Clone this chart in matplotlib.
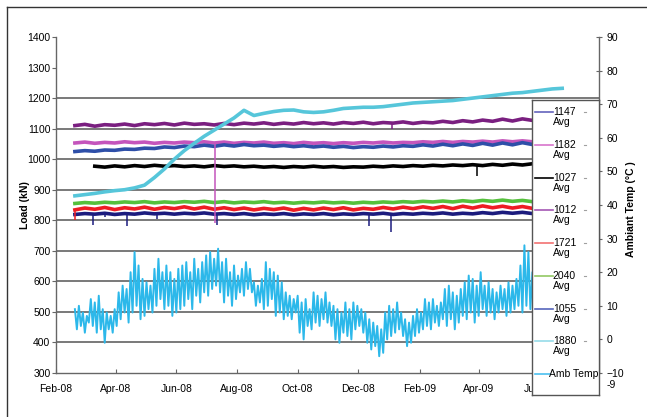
import matplotlib.pyplot as plt
import matplotlib.dates as mdates
from matplotlib.lines import Line2D
import numpy as np
import pandas as pd

plt.rcParams['font.family'] = ['Liberation Sans', 'DejaVu Sans']
plt.rcParams['font.size'] = 7.5

# ---- load cells, 10-day readings from 20 Feb 2008 (kN) ----
load_start = '2008-02-20'
nan = np.nan
load_1147 = [819, 822, 820, 823, 819, 822, 820, 824, 821, 823, 820, 823, 821, 824, 820, 822, 819, 822, 818, 821,
             819, 822, 818, 821, 819, 822, 818, 821, 819, 822, 820, 823, 819, 822, 820, 823, 821, 824, 820, 823,
             821, 825, 822, 826, 823, 826, 822, 825, 823, 825]
load_1182 = [1053, 1056, 1052, 1055, 1053, 1057, 1054, 1056, 1052, 1055, 1053, 1056, 1054, 1057, 1053, 1056, 1052,
             1055, 1053, 1056, 1052, 1054, 1051, 1055, 1052, 1054, 1051, 1054, 1052, 1055, 1053, 1056, 1053, 1055,
             1054, 1057, 1055, 1058, 1055, 1058, 1056, 1059, 1056, 1060, 1057, 1060, 1057, 1059, 1056, 1058]
load_1027 = [nan, nan, 977, 974, 978, 975, 979, 976, 980, 977, 979, 976, 978, 975, 979, 976, 978, 975, 977, 974,
             976, 973, 976, 974, 977, 974, 976, 973, 975, 974, 977, 975, 978, 976, 979, 977, 980, 978, 981, 979,
             982, 979, 983, 980, 984, 981, 985, 982, 984, 981]
load_1012 = [1110, 1114, 1108, 1113, 1111, 1115, 1110, 1116, 1113, 1117, 1112, 1118, 1114, 1116, 1112, 1117, 1113,
             1118, 1115, 1119, 1114, 1118, 1115, 1120, 1116, 1119, 1115, 1120, 1117, 1121, 1116, 1120, 1118, 1122,
             1117, 1121, 1119, 1124, 1120, 1126, 1122, 1128, 1124, 1131, 1125, 1132, 1127, 1130, 1128, 1131]
load_1721 = [834, 840, 836, 842, 835, 841, 837, 843, 836, 842, 838, 844, 837, 843, 836, 841, 835, 840, 834, 839,
             835, 840, 833, 839, 834, 840, 835, 841, 834, 839, 836, 842, 837, 843, 838, 844, 839, 845, 838, 846,
             840, 847, 841, 846, 840, 845, 839, 844, 840, 843]
load_2040 = [855, 858, 856, 859, 857, 860, 858, 861, 857, 860, 858, 861, 859, 862, 858, 861, 857, 860, 858, 861,
             857, 859, 856, 859, 857, 860, 857, 859, 856, 859, 857, 860, 858, 861, 859, 862, 860, 863, 860, 864,
             861, 865, 862, 866, 862, 865, 861, 864, 862, 864]
load_1055 = [1025, 1028, 1026, 1030, 1029, 1033, 1032, 1036, 1035, 1040, 1038, 1043, 1041, 1046, 1042, 1047, 1043,
             1048, 1044, 1046, 1042, 1045, 1041, 1044, 1040, 1043, 1039, 1042, 1038, 1041, 1039, 1043, 1040, 1044,
             1042, 1047, 1043, 1049, 1044, 1050, 1045, 1052, 1046, 1053, 1047, 1054, 1048, 1052, 1047, 1050]
load_1880 = [880, 884, 888, 893, 897, 900, 906, 915, 940, 968, 1000, 1028, 1052, 1075, 1095, 1115, 1135, 1160,
             1143, 1150, 1156, 1160, 1161, 1155, 1153, 1155, 1160, 1166, 1168, 1170, 1170, 1172, 1176, 1180, 1184,
             1186, 1188, 1190, 1192, 1196, 1200, 1204, 1208, 1212, 1216, 1218, 1222, 1226, 1230, 1232]

# drop-outs in the load records
spike_dates = ['2008-02-20', '2008-03-09', '2008-03-21', '2008-04-12', '2008-05-13', '2008-07-10',
               '2008-07-12', '2008-12-12', '2009-01-03', '2009-01-04', '2009-03-30']
spike_series = ['1721', '1147', '1147', '1147', '1147', '1182', '1147', '1147', '1147', '1012', '1027']
spike_tops = [838, 820, 820, 820, 821, 1055, 820, 820, 821, 1118, 980]
spike_bottoms = [800, 785, 812, 780, 805, 790, 786, 782, 760, 1098, 945]

# ambient temperature, 2-day readings from 20 Feb 2008 (deg C)
amb_start = '2008-02-20'
amb_temp = [9, 3, 10, 4, 8, 2, 7, 5,
            12, 4, 11, 2, 13, 3,
            9, -1, 8, 3, 7, 2, 9, 4,
            14, 6, 16, 8, 15, 5,
            20, 8, 26, 10, 22, 6,
            18, 7, 17, 9, 16,
            8, 21, 10, 24, 12, 20, 9, 22,
            10, 20, 7, 18, 8, 21, 9,
            22, 10, 23, 12, 20, 9, 24, 13, 21, 11, 23,
            14, 25, 13, 26, 15, 24, 16, 27, 14,
            23, 11, 24, 13, 20, 10, 22, 12, 19, 14, 21,
            13, 23, 15, 21, 14,
            17, 10, 16, 11, 18,
            9, 23, 10, 21, 12,
            20, 7, 19, 8, 17,
            6, 14, 7, 13, 6, 12, 8,
            13, 2, 11, 0, 12, 4, 9, 3,
            14, 5, 13, 4, 12, 6, 14, 5, 11, 4,
            10, 0, 9, -1, 8, 2, 11, 1, 9, 0,
            11, 3, 10, 4, 9, 2, 8,
            -1, 6, -3, 5, -2,
            4, -5, 3, -4,
            8, 0, 10, 1, 9, 2, 11, 3, 8, 1,
            6, -2, 5, -1, 7,
            1, 9, 2, 8, 3,
            12, 4, 11, 3, 12, 5, 10, 4, 11, 6,
            15, 4, 16, 6, 14, 3, 13, 5, 15, 7,
            17, 6, 19, 8, 18, 5, 16, 7, 20, 9,
            16, 7, 17, 8, 15, 6, 14, 8, 16, 9,
            15, 7, 17, 8, 16, 9, 18, 10,
            22, 8, 28, 10, 26,
            9, 20, 8, 18, 10]

grid_levels = [400, 500, 600, 700, 800, 900, 1000, 1100, 1200]

series = [('1147', load_1147), ('1182', load_1182), ('1027', load_1027), ('1012', load_1012),
          ('1721', load_1721), ('2040', load_2040), ('1055', load_1055), ('1880', load_1880)]
line_colors = {'1147': '#1c1c7e', '1182': '#c455bc', '1027': '#000000', '1012': '#7a1f80',
               '1721': '#ee1c24', '2040': '#55c03c', '1055': '#2e4fa8', '1880': '#56c6da'}
key_colors = {'1147': '#6464bc', '1182': '#d874cc', '1027': '#000000', '1012': '#a457b4',
              '1721': '#f27272', '2040': '#92c864', '1055': '#5666bc', '1880': '#96dbe9'}
amb_color = '#2cb8ea'

fig = plt.figure(figsize=(6.47, 4.17), dpi=100)
ax = fig.add_axes([56 / 647, 44 / 417, 543 / 647, 336 / 417])
ax2 = ax.twinx()

ax.hlines(grid_levels, 0, 1, transform=ax.get_yaxis_transform(), colors='#6e6e6e', lw=1.3, zorder=0)

load_dates = pd.date_range(load_start, periods=len(load_1147), freq='10D')
for name, vals in series:
    ax.plot(load_dates, vals, color=line_colors[name], lw=2.6, zorder=2)

for d, s, top, bot in zip(spike_dates, spike_series, spike_tops, spike_bottoms):
    ax.vlines(pd.Timestamp(d), bot, top, color=line_colors[s], lw=1.1, zorder=2)

amb_dates = pd.date_range(amb_start, periods=len(amb_temp), freq='2D')
ax2.plot(amb_dates, amb_temp, color=amb_color, lw=1.4)

ax.set_xlim(pd.Timestamp('2008-02-01'), pd.Timestamp('2009-07-31'))
ax.set_ylim(300, 1400)
ax.set_yticks(range(300, 1401, 100))
ax2.set_ylim(-10, 90)
ax2.set_yticks(range(-10, 91, 10))

ax.xaxis.set_major_locator(mdates.MonthLocator(bymonth=[2, 4, 6, 8, 10, 12]))
ax.xaxis.set_major_formatter(mdates.DateFormatter('%b-%y'))

for a in (ax, ax2):
    for sp in a.spines.values():
        sp.set_color('#666666')
        sp.set_linewidth(1.0)
    a.spines['top'].set_visible(False)
ax.spines['right'].set_visible(False)
ax2.spines['left'].set_visible(False)
ax2.spines['bottom'].set_visible(False)

ax.tick_params(axis='y', direction='out', length=3, pad=1, color='#666666', labelsize=7.5)
ax.tick_params(axis='x', direction='in', length=3, pad=8, color='#666666', labelsize=7.5)
ax2.tick_params(axis='y', direction='inout', length=5, pad=3, color='#666666', labelsize=7.5)
ax2.annotate('-9', xy=(1, 0), xycoords='axes fraction', xytext=(8, -12),
             textcoords='offset pixels', ha='left', va='center', fontsize=7.5)

fig.text(25 / 647, 1 - 205 / 417, 'Load (kN)', rotation=90, ha='center', va='center',
         fontweight='bold', fontsize=7.5)
fig.text(631 / 647, 1 - 209 / 417, 'Ambiant Temp (°C )', rotation=90, ha='center', va='center',
         fontweight='bold', fontsize=7.5)

# legend box drawn by hand so the key line sits on the first text row
leg = fig.add_axes([532 / 647, 22 / 417, 67 / 647, 295 / 417])
leg.set_xlim(0, 1)
leg.set_ylim(0, 1)
leg.set_xticks([])
leg.set_yticks([])
for sp in leg.spines.values():
    sp.set_color('#555555')
    sp.set_linewidth(1.0)
row_step = 32.75 / 295
row_y = [0.959 - row_step * k for k in range(len(series) + 1)]
for (name, _), y in zip(series, row_y):
    leg.plot([0.045, 0.31], [y, y], color=key_colors[name], lw=1.2)
    leg.text(0.31, y, name, ha='left', va='center', fontsize=7.5)
    leg.text(0.31, y - 10 / 295, 'Avg', ha='left', va='center', fontsize=7.5)
    leg.plot([0.77, 0.8], [y, y], color='#a0a0a0', lw=0.8)
leg.plot([0.045, 0.27], [row_y[-1], row_y[-1]], color='#4cc0f0', lw=1.2)
leg.text(0.25, row_y[-1], 'Amb Temp', ha='left', va='center', fontsize=7.5)

# outer frame
fig.add_artist(Line2D([7 / 647, 7 / 647], [0, 410 / 417], color='#333333', lw=1.0))
fig.add_artist(Line2D([7 / 647, 1], [410 / 417, 410 / 417], color='#333333', lw=1.0))

fig.savefig('out.png', dpi=100)
